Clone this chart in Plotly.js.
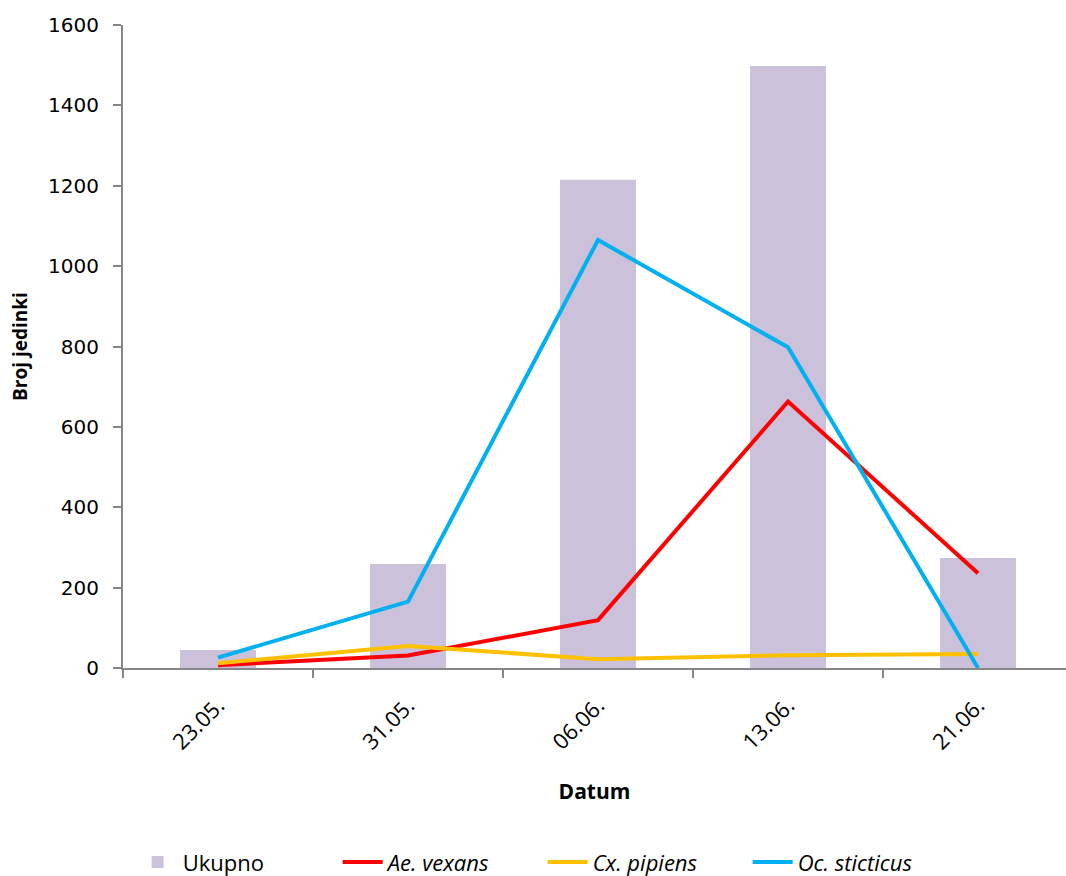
<!DOCTYPE html>
<html>
<head>
<meta charset="utf-8">
<script src="https://cdn.plot.ly/plotly-3.0.1.min.js"></script>
<style>html,body{margin:0;padding:0;background:#fff;}#chart{width:1066px;height:876px;}</style>
</head>
<body>
<div id="chart"></div>
<script>
const categories = ["23.05.", "31.05.", "06.06.", "13.06.", "21.06."];
const ukupno = [45, 259, 1215, 1498, 274];
const aeVexans = [7, 31, 119, 663, 236];
const cxPipiens = [12, 55, 22, 32, 35];
const ocSticticus = [26, 165, 1065, 798, 0];
const yTicks = [0, 200, 400, 600, 800, 1000, 1200, 1400, 1600];

const traces = [
  {type: "bar", x: categories, y: ukupno, name: "Ukupno",
   marker: {color: "#CBC1DA"}},
  {type: "scatter", mode: "lines", x: categories, y: aeVexans, name: "<i>Ae. vexans</i>",
   line: {color: "#FF0000", width: 4}},
  {type: "scatter", mode: "lines", x: categories, y: cxPipiens, name: "<i>Cx. pipiens</i>",
   line: {color: "#FFC000", width: 4}},
  {type: "scatter", mode: "lines", x: categories, y: ocSticticus, name: "<i>Oc. sticticus</i>",
   line: {color: "#00B0F0", width: 4}}
];

const layout = {
  width: 1066, height: 876,
  margin: {l: 123, r: 0, t: 25, b: 208, autoexpand: false},
  paper_bgcolor: "#fff", plot_bgcolor: "#fff",
  bargap: 0.6,
  showlegend: true,
  legend: {orientation: "h", x: 0.445, xanchor: "center", y: -0.302, yanchor: "middle",
           font: {family: "Open Sans, sans-serif", size: 22, color: "#000"},
           itemwidth: 40, tracegroupgap: 0, entrywidth: 150, entrywidthmode: "pixels"},
  xaxis: {
    type: "category", range: [-0.5, 4.463], automargin: false,
    tickson: "boundaries", ticks: "outside", ticklen: 8, tickwidth: 2, tickcolor: "#868686",
    showline: true, linecolor: "#868686", linewidth: 2, showgrid: false, zeroline: false,
    tickangle: -45, ticklabelstandoff: 14,
    tickfont: {family: "Open Sans, sans-serif", size: 22, color: "#000"},
    title: {text: "<b>Datum</b>", font: {family: "Open Sans, sans-serif", size: 21, color: "#000"}, standoff: 30}
  },
  yaxis: {
    range: [0, 1600], tickvals: yTicks, ticks: "outside", ticklen: 8, tickwidth: 2, tickcolor: "#868686",
    showline: true, linecolor: "#868686", linewidth: 2, showgrid: false, zeroline: false,
    automargin: false, ticklabelstandoff: 10,
    tickfont: {family: "DejaVu Sans, sans-serif", size: 20, color: "#000"},
    title: {text: "<b>Broj jedinki</b>", font: {family: "Open Sans, sans-serif", size: 19, color: "#000"}, standoff: 15}
  }
};

Plotly.newPlot("chart", traces, layout, {displayModeBar: false, staticPlot: true});
</script>
</body>
</html>
